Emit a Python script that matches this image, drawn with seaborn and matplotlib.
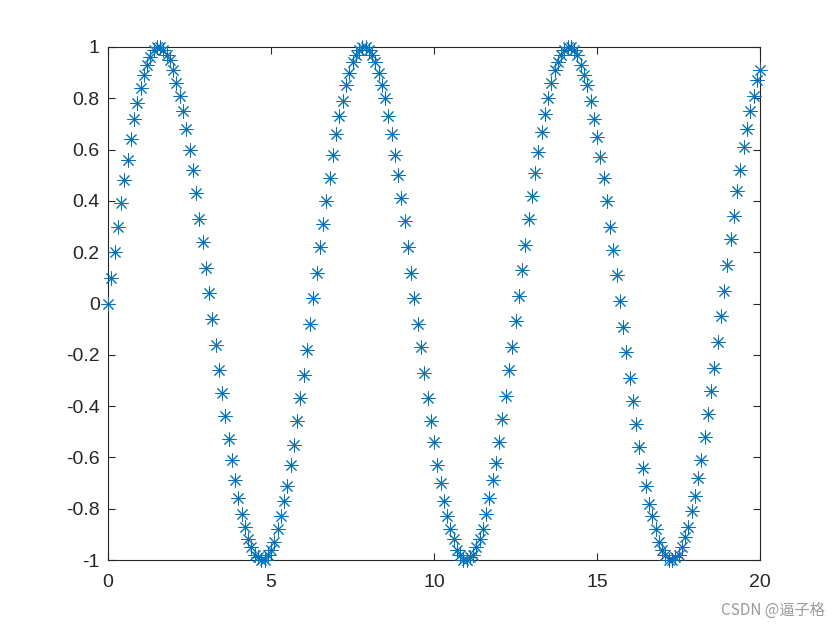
import matplotlib
matplotlib.use("Agg")
import matplotlib.pyplot as plt
import seaborn as sns
import pandas as pd
from matplotlib.ticker import FormatStrFormatter

x_vals = [
    0.0, 0.1, 0.2, 0.3, 0.4, 0.5, 0.6, 0.7, 0.8, 0.9,
    1.0, 1.1, 1.2, 1.3, 1.4, 1.5, 1.6, 1.7, 1.8, 1.9,
    2.0, 2.1, 2.2, 2.3, 2.4, 2.5, 2.6, 2.7, 2.8, 2.9,
    3.0, 3.1, 3.2, 3.3, 3.4, 3.5, 3.6, 3.7, 3.8, 3.9,
    4.0, 4.1, 4.2, 4.3, 4.4, 4.5, 4.6, 4.7, 4.8, 4.9,
    5.0, 5.1, 5.2, 5.3, 5.4, 5.5, 5.6, 5.7, 5.8, 5.9,
    6.0, 6.1, 6.2, 6.3, 6.4, 6.5, 6.6, 6.7, 6.8, 6.9,
    7.0, 7.1, 7.2, 7.3, 7.4, 7.5, 7.6, 7.7, 7.8, 7.9,
    8.0, 8.1, 8.2, 8.3, 8.4, 8.5, 8.6, 8.7, 8.8, 8.9,
    9.0, 9.1, 9.2, 9.3, 9.4, 9.5, 9.6, 9.7, 9.8, 9.9,
    10.0, 10.1, 10.2, 10.3, 10.4, 10.5, 10.6, 10.7, 10.8, 10.9,
    11.0, 11.1, 11.2, 11.3, 11.4, 11.5, 11.6, 11.7, 11.8, 11.9,
    12.0, 12.1, 12.2, 12.3, 12.4, 12.5, 12.6, 12.7, 12.8, 12.9,
    13.0, 13.1, 13.2, 13.3, 13.4, 13.5, 13.6, 13.7, 13.8, 13.9,
    14.0, 14.1, 14.2, 14.3, 14.4, 14.5, 14.6, 14.7, 14.8, 14.9,
    15.0, 15.1, 15.2, 15.3, 15.4, 15.5, 15.6, 15.7, 15.8, 15.9,
    16.0, 16.1, 16.2, 16.3, 16.4, 16.5, 16.6, 16.7, 16.8, 16.9,
    17.0, 17.1, 17.2, 17.3, 17.4, 17.5, 17.6, 17.7, 17.8, 17.9,
    18.0, 18.1, 18.2, 18.3, 18.4, 18.5, 18.6, 18.7, 18.8, 18.9,
    19.0, 19.1, 19.2, 19.3, 19.4, 19.5, 19.6, 19.7, 19.8, 19.9,
    20.0,
]

y_vals = [
    0.00, 0.10, 0.20, 0.30, 0.39, 0.48, 0.56, 0.64, 0.72, 0.78,
    0.84, 0.89, 0.93, 0.96, 0.99, 1.00, 1.00, 0.99, 0.97, 0.95,
    0.91, 0.86, 0.81, 0.75, 0.68, 0.60, 0.52, 0.43, 0.33, 0.24,
    0.14, 0.04, -0.06, -0.16, -0.26, -0.35, -0.44, -0.53, -0.61, -0.69,
    -0.76, -0.82, -0.87, -0.92, -0.95, -0.98, -0.99, -1.00, -1.00, -0.98,
    -0.96, -0.93, -0.88, -0.83, -0.77, -0.71, -0.63, -0.55, -0.46, -0.37,
    -0.28, -0.18, -0.08, 0.02, 0.12, 0.22, 0.31, 0.40, 0.49, 0.58,
    0.66, 0.73, 0.79, 0.85, 0.90, 0.94, 0.97, 0.99, 1.00, 1.00,
    0.99, 0.97, 0.94, 0.90, 0.85, 0.80, 0.73, 0.66, 0.58, 0.50,
    0.41, 0.32, 0.22, 0.12, 0.02, -0.08, -0.17, -0.27, -0.37, -0.46,
    -0.54, -0.63, -0.70, -0.77, -0.83, -0.88, -0.92, -0.96, -0.98, -1.00,
    -1.00, -0.99, -0.98, -0.95, -0.92, -0.88, -0.82, -0.76, -0.69, -0.62,
    -0.54, -0.45, -0.36, -0.26, -0.17, -0.07, 0.03, 0.13, 0.23, 0.33,
    0.42, 0.51, 0.59, 0.67, 0.74, 0.80, 0.86, 0.91, 0.94, 0.97,
    0.99, 1.00, 1.00, 0.99, 0.97, 0.93, 0.89, 0.85, 0.79, 0.72,
    0.65, 0.57, 0.49, 0.40, 0.30, 0.21, 0.11, 0.01, -0.09, -0.19,
    -0.29, -0.38, -0.47, -0.56, -0.64, -0.71, -0.78, -0.83, -0.88, -0.93,
    -0.96, -0.98, -1.00, -1.00, -0.99, -0.98, -0.95, -0.91, -0.87, -0.81,
    -0.75, -0.68, -0.61, -0.52, -0.43, -0.34, -0.25, -0.15, -0.05, 0.05,
    0.15, 0.25, 0.34, 0.44, 0.52, 0.61, 0.68, 0.75, 0.81, 0.87,
    0.91,
]

x_ticks = [0, 5, 10, 15, 20]
y_ticks = [-1, -0.8, -0.6, -0.4, -0.2, 0, 0.2, 0.4, 0.6, 0.8, 1]

df = pd.DataFrame({"x": x_vals, "y": y_vals})

sns.set_theme(style="white")
plt.rcParams["font.family"] = ["Liberation Sans", "DejaVu Sans"]

fig = plt.figure(figsize=(8.4, 6.3), dpi=100)
ax = fig.add_axes([0.1286, 0.1111, 0.7762, 0.8143])

# MATLAB-style asterisk: 8-armed line marker
sns.lineplot(data=df, x="x", y="y", ax=ax, linestyle="", marker=(8, 2, 0),
             markersize=10, markeredgewidth=0.7, color="#0072BD",
             markeredgecolor="#0072BD", estimator=None, sort=False,
             clip_on=False, zorder=3, legend=False)

ax.set_xlim(0, 20)
ax.set_ylim(-1, 1)
ax.set_xticks(x_ticks)
ax.set_yticks(y_ticks)
ax.yaxis.set_major_formatter(FormatStrFormatter("%g"))
ax.xaxis.set_major_formatter(FormatStrFormatter("%g"))
ax.set_xlabel("")
ax.set_ylabel("")
for s in ax.spines.values():
    s.set_visible(True)
    s.set_color("#262626")
    s.set_linewidth(0.8)
ax.tick_params(direction="in", length=5, width=0.8, color="#262626",
               labelsize=14, labelcolor="#262626",
               top=True, right=True, bottom=True, left=True, pad=6)
ax.tick_params(axis="x", pad=10)
ax.grid(False)

fig.text(0.982, 0.018, "CSDN @逼子格", ha="right", va="bottom", fontsize=11,
         color="#9a9a9a", family=["Noto Sans CJK SC", "DejaVu Sans"])

fig.savefig("out.png", dpi=100, facecolor="white")
